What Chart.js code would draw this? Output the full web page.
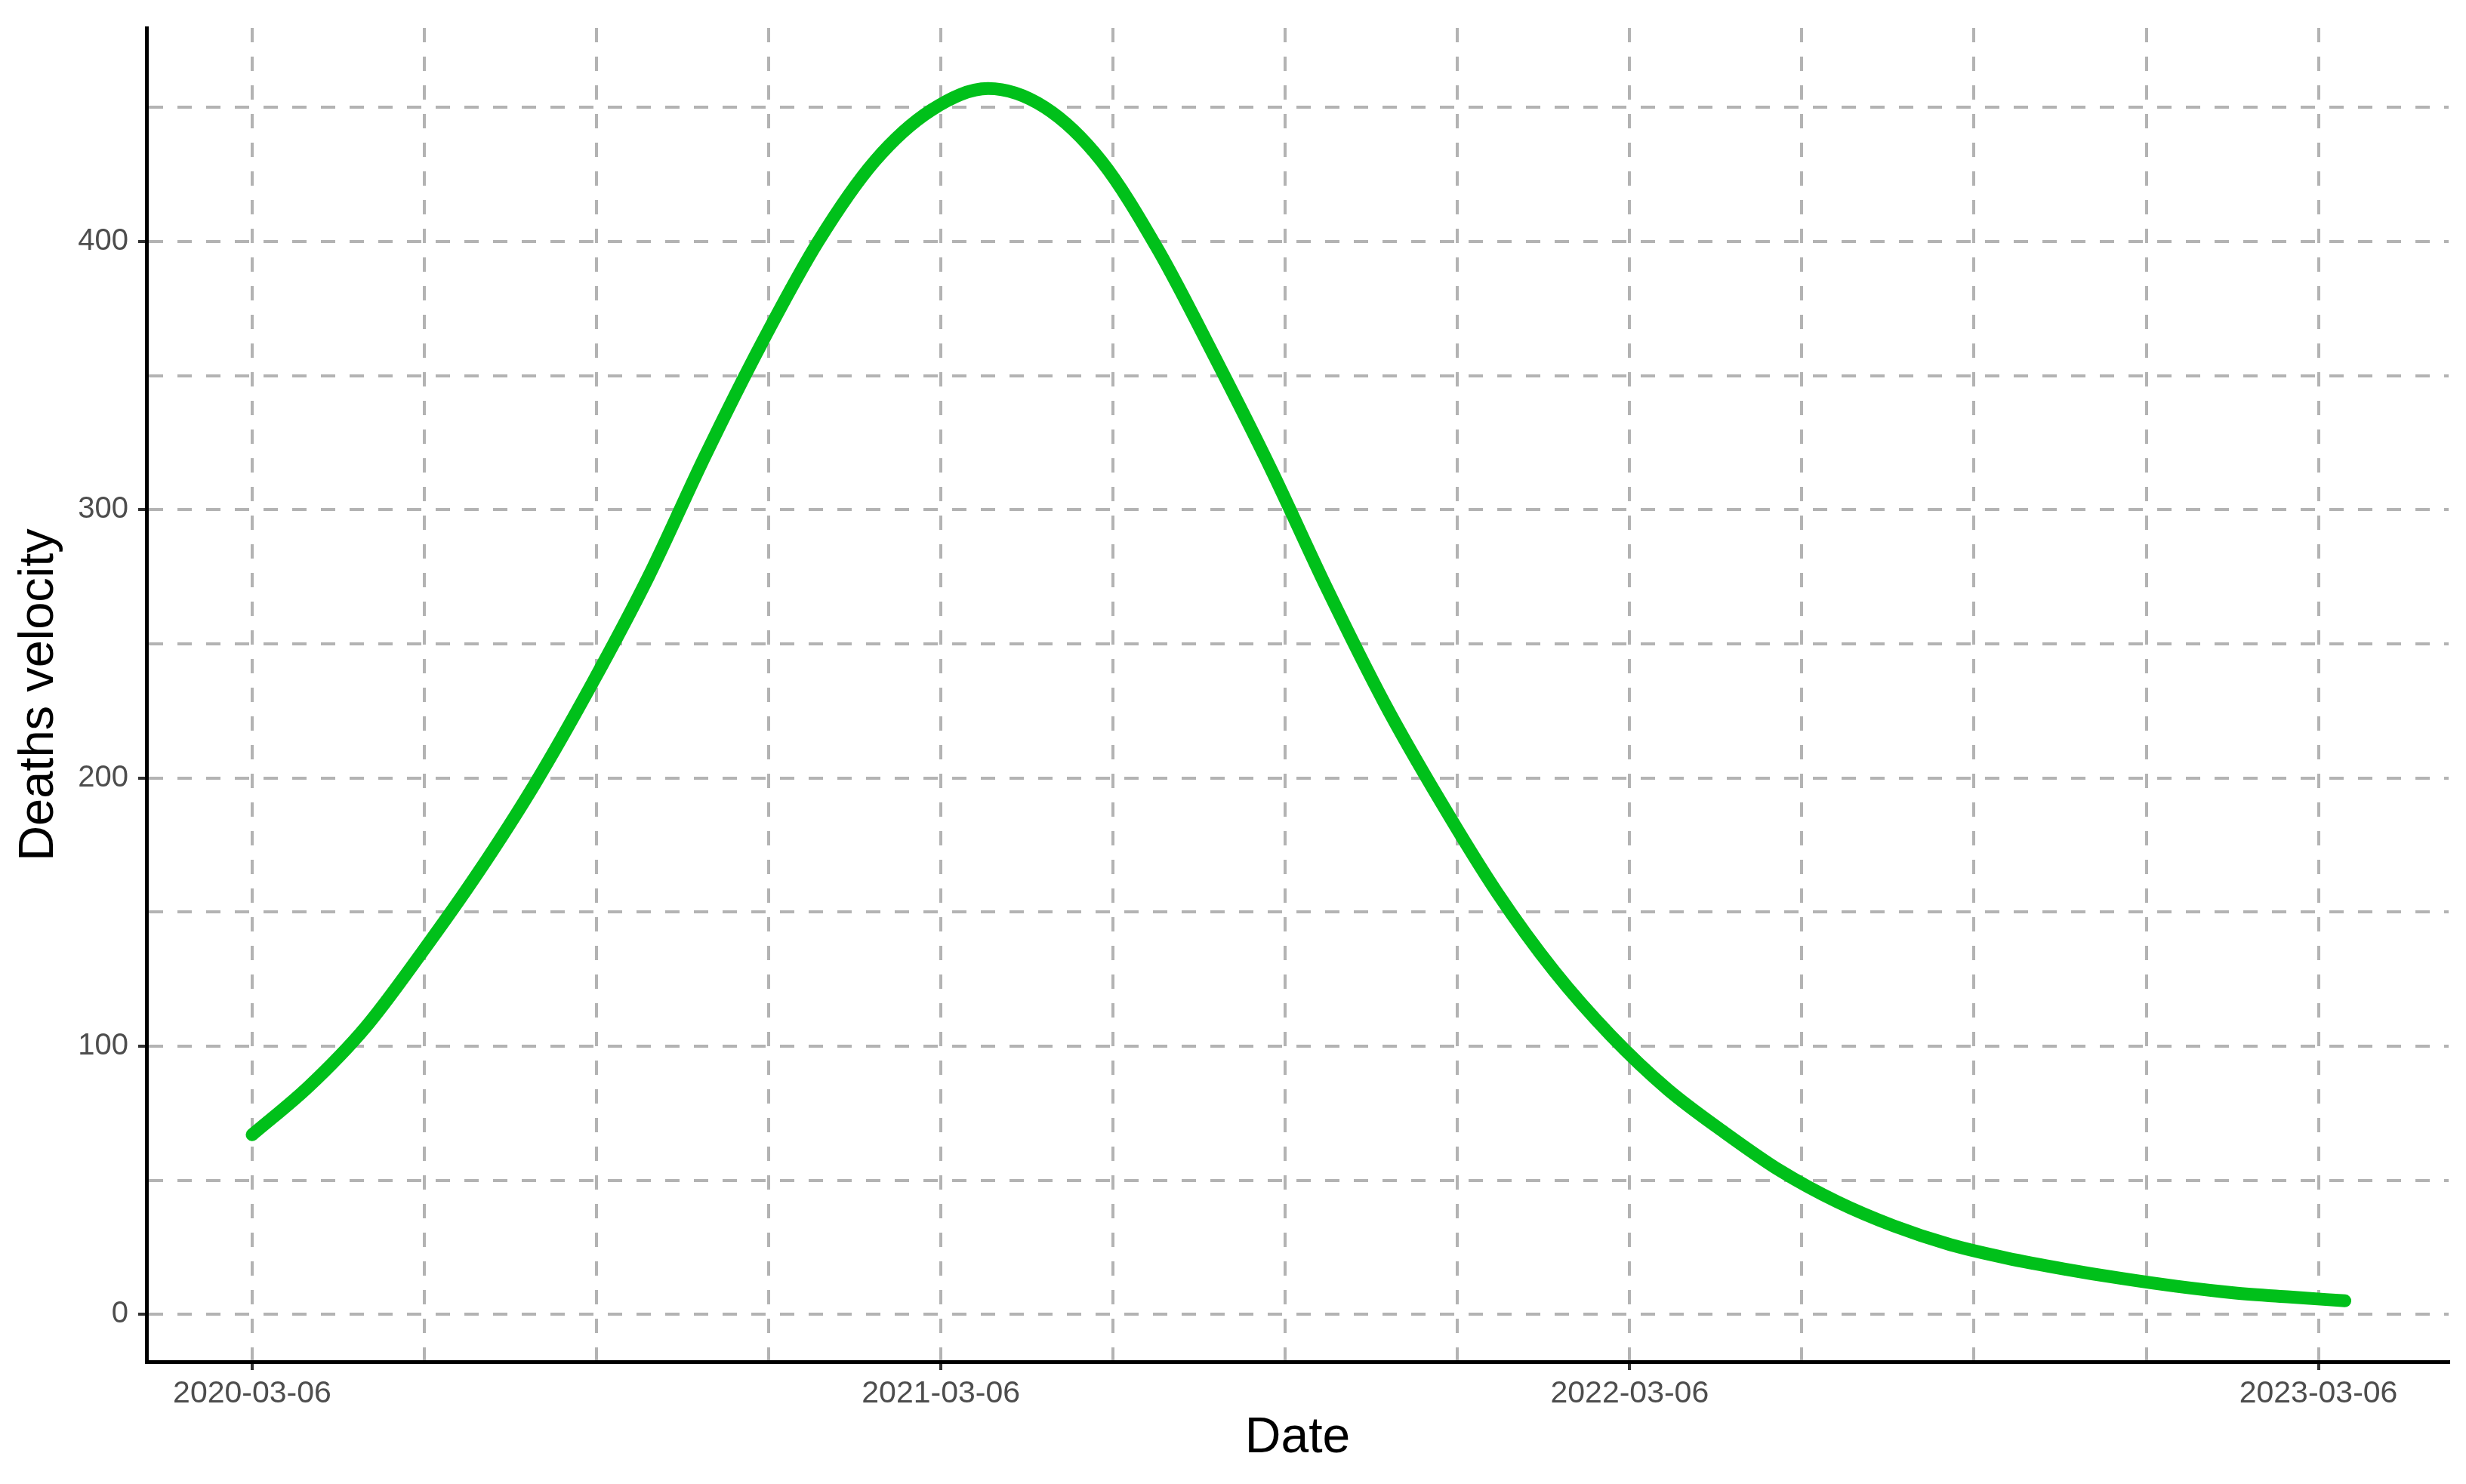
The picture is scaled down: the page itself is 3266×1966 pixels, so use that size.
<!DOCTYPE html>
<html>
<head>
<meta charset="utf-8">
<title>Deaths velocity</title>
<script src="https://cdn.jsdelivr.net/npm/chart.js@4"></script>
<style>
    html, body { margin: 0; padding: 0; background: #ffffff; }
    canvas { display: block; }
</style>
</head>
<body>
<canvas id="chart" width="3266" height="1966"></canvas>
<script>
    // Days since 2020-03-06.
    var days = [0, 30, 60, 90, 120, 150, 180, 210, 240, 270, 300, 330, 360, 390,
        420, 450, 480, 510, 540, 570, 600, 630, 660, 690, 720, 750, 780, 810, 840,
        870, 900, 930, 960, 990, 1020, 1050, 1080, 1109];
    var velocity = [67, 85, 107, 135, 165, 198, 235, 275, 320, 362, 400, 430, 449, 457,
        450, 430, 397, 357, 315, 270, 228, 191, 157, 128, 104, 84, 68, 53.5, 42,
        33, 26, 21, 17, 13.5, 10.5, 8.1, 6.5, 5.1];

    // Axis ticks.
    var xTickDays = [0, 365, 730, 1095];
    var xTickLabels = ['2020-03-06', '2021-03-06', '2022-03-06', '2023-03-06'];
    var yTickValues = [0, 100, 200, 300, 400];

    var GRID = '#b3b3b3';
    var TICK = '#333333';
    var FONT = '"Liberation Sans", Arial, sans-serif';

    /**
     * Build the x ticks: labelled years plus three quarter gridlines between them.
     */
    function buildXTicks(scale) {
        var ticks = [];
        for (var i = 0; i < xTickDays.length; i++) {
            ticks.push({ value: xTickDays[i] });
            if (i < xTickDays.length - 1) {
                var step = (xTickDays[i + 1] - xTickDays[i]) / 4;
                for (var k = 1; k < 4; k++) {
                    ticks.push({ value: xTickDays[i] + k * step });
                }
            }
        }
        scale.ticks = ticks;
    }

    /**
     * Build the y ticks: labelled values plus a minor gridline halfway.
     */
    function buildYTicks(scale) {
        var ticks = [];
        for (var i = 0; i < yTickValues.length; i++) {
            ticks.push({ value: yTickValues[i] });
            var next = i < yTickValues.length - 1 ? yTickValues[i + 1] : yTickValues[i] + 100;
            ticks.push({ value: (yTickValues[i] + next) / 2 });
        }
        scale.ticks = ticks;
    }

    var points = days.map(function(d, i) {
        return { x: d, y: velocity[i] };
    });

    var ctx = document.getElementById('chart').getContext('2d');
    new Chart(ctx, {
        type: 'line',
        data: {
            datasets: [{
                label: 'Deaths velocity',
                data: points,
                borderColor: '#00c01a',
                borderWidth: 17,
                borderCapStyle: 'round',
                borderJoinStyle: 'round',
                pointRadius: 0,
                fill: false,
                cubicInterpolationMode: 'monotone'
            }]
        },
        options: {
            responsive: false,
            animation: false,
            layout: {
                padding: { top: 35, right: 23, left: 0, bottom: 0 }
            },
            plugins: {
                legend: { display: false },
                tooltip: { enabled: false }
            },
            scales: {
                x: {
                    type: 'linear',
                    min: -56,
                    max: 1164,
                    afterBuildTicks: buildXTicks,
                    afterFit: function(scale) { scale.height = 162; },
                    grid: {
                        color: GRID,
                        lineWidth: 4,
                        tickLength: 11,
                        tickWidth: 4,
                        tickColor: function(c) {
                            return xTickDays.indexOf(c.tick.value) >= 0 ? TICK : 'rgba(0,0,0,0)';
                        }
                    },
                    border: { display: true, color: '#000000', width: 5, dash: [19, 19] },
                    ticks: {
                        autoSkip: false,
                        maxRotation: 0,
                        padding: 7,
                        color: '#4d4d4d',
                        font: { family: FONT, size: 41 },
                        callback: function(value) {
                            var i = xTickDays.indexOf(value);
                            return i >= 0 ? xTickLabels[i] : '';
                        }
                    },
                    title: {
                        display: true,
                        text: 'Date',
                        color: '#000000',
                        font: { family: FONT, size: 66 },
                        padding: { top: 0, bottom: 21 }
                    }
                },
                y: {
                    type: 'linear',
                    min: -17.6,
                    max: 479.6,
                    afterBuildTicks: buildYTicks,
                    afterFit: function(scale) { scale.width = 194; },
                    grid: {
                        color: GRID,
                        lineWidth: 4,
                        tickLength: 11,
                        tickWidth: 4,
                        tickColor: function(c) {
                            return yTickValues.indexOf(c.tick.value) >= 0 ? TICK : 'rgba(0,0,0,0)';
                        }
                    },
                    border: { display: true, color: '#000000', width: 5, dash: [19, 19] },
                    ticks: {
                        autoSkip: false,
                        padding: 13,
                        color: '#4d4d4d',
                        font: { family: FONT, size: 40 },
                        callback: function(value) {
                            return yTickValues.indexOf(value) >= 0 ? String(value) : '';
                        }
                    },
                    title: {
                        display: true,
                        text: 'Deaths velocity',
                        color: '#000000',
                        font: { family: FONT, size: 65 },
                        padding: { top: 13, bottom: 0 }
                    }
                }
            }
        }
    });
</script>
</body>
</html>
